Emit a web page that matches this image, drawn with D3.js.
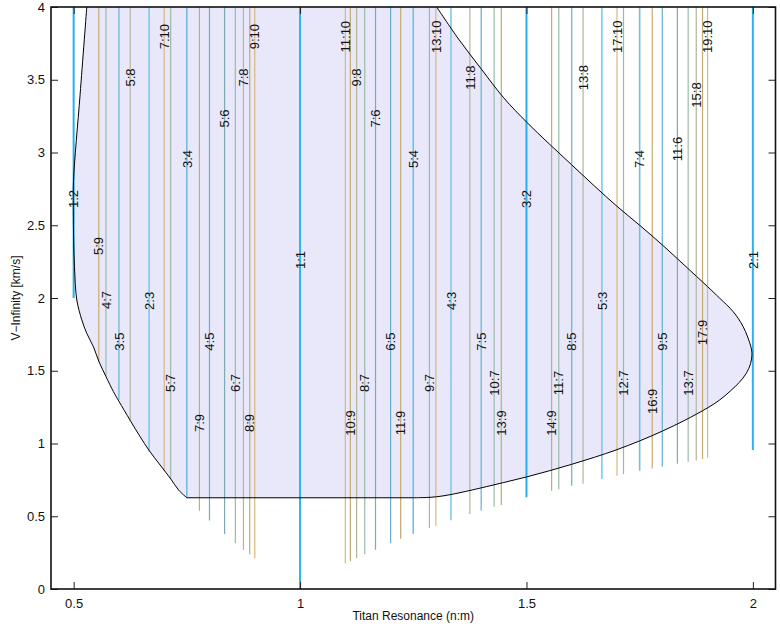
<!DOCTYPE html>
<html>
<head>
<meta charset="utf-8">
<script src="https://cdn.jsdelivr.net/npm/d3@7"></script>
<style>
  html, body { margin: 0; padding: 0; background: #fff; }
  text { font-family: "Liberation Sans", Arial, Helvetica, sans-serif; }
</style>
</head>
<body>
<svg id="chart" width="780" height="630"></svg>
<script>
// ---------------- data ----------------
const resN   = [1,5,4,3,5,2,7,5,3,7,4,5,6,7,8,9,1,11,10,9,8,7,6,11,5,9,13,4,11,7,10,13,3,14,11,8,13,5,17,12,7,16,9,11,13,15,17,19,2];
const resM   = [2,9,7,5,8,3,10,7,4,9,5,6,7,8,9,10,1,10,9,8,7,6,5,9,4,7,10,3,8,5,7,9,2,9,7,5,8,3,10,7,4,9,5,6,7,8,9,10,1];
const vMin   = [2.0,1.56,1.46,1.30,1.155,0.944,0.81,0.756,0.627,0.538,0.47,0.378,0.314,0.268,0.238,0.211,0.0,
                0.176,0.192,0.211,0.238,0.27,0.314,0.346,0.38,0.42,0.435,0.472,0.515,0.538,0.566,0.577,0.63,
                0.676,0.685,0.71,0.724,0.756,0.779,0.788,0.813,0.829,0.84,0.861,0.875,0.884,0.893,0.902,0.955];
const vMax   = new Array(49).fill(4);
const labelV = [2.68,2.357,1.986,1.70,3.515,1.98,3.796,1.416,2.955,1.141,1.70,3.234,1.416,3.515,1.141,3.796,2.261,
                3.796,1.141,3.515,1.416,3.234,1.70,1.141,2.955,1.416,3.796,1.98,3.515,1.70,1.416,1.141,2.68,
                1.141,1.416,1.70,3.515,1.98,3.796,1.416,2.955,1.29,1.70,3.024,1.416,3.395,1.763,3.796,2.261];

// boundary of the accessible region: left branch (top -> corner), then right branch (flat end -> nose -> top)
const leftX  = [0.529,0.5143,0.4996,0.4993,0.5,0.5018,0.507,0.518,0.529,0.5437,0.5556,0.5714,0.5879,0.6,0.6247,0.6468,0.6667,0.691,0.7146,0.7318,0.75];
const leftV  = [4.0,3.4,2.80,2.6,2.4,2.215,1.986,1.85,1.757,1.665,1.565,1.46,1.356,1.29,1.16,1.047,0.952,0.852,0.756,0.68,0.627];
const rightX = [1.25,1.28,1.3018,1.331,1.375,1.4,1.45,1.5,1.55,1.6,1.65,1.7,1.75,1.8,1.85,1.9,1.927,1.95,1.97,1.985,1.995,1.998,
                1.9956,1.9786,1.9565,1.927,1.9,1.85,1.8,1.75,1.7,1.65,1.6,1.55,1.5,1.45,1.4,1.35,1.3018];
const rightV = [0.627,0.629,0.634,0.648,0.677,0.695,0.732,0.770,0.812,0.857,0.905,0.958,1.018,1.085,1.160,1.245,1.300,1.36,1.42,1.48,1.55,1.61,
                1.665,1.803,1.906,1.998,2.078,2.222,2.365,2.50,2.63,2.77,2.915,3.06,3.21,3.375,3.575,3.78,4.0];

const xTicks = [0.5, 1, 1.5, 2];
const yTicks = [0, 0.5, 1, 1.5, 2, 2.5, 3, 3.5, 4];

// ---------------- styles ----------------
const mColor = {1:"#2cb3ec",2:"#26b0ea",3:"#80c8ea",4:"#74bde0",5:"#66b0cc",6:"#7caab2",7:"#9cbaaa",8:"#b2b698",9:"#c4ab72",10:"#d8b87e"};
const mWidth = m => m <= 2 ? 2 : (m <= 4 ? 1.6 : 1.2);

// ---------------- chart ----------------
const svg = d3.select("#chart");
const L = 51, R = 775.5, T = 7, B = 589;
const x = d3.scaleLinear().domain([0.45, 2.05]).range([L, R]);
const y = d3.scaleLinear().domain([0, 4]).range([B, T]);

svg.append("rect").attr("width",780).attr("height",630).attr("fill","#fff");

svg.append("defs").append("clipPath").attr("id","clip")
  .append("rect").attr("x",L).attr("y",T).attr("width",R-L).attr("height",B-T);

const plot = svg.append("g").attr("clip-path","url(#clip)");

const curve = d3.line().x(d=>x(d[0])).y(d=>y(d[1])).curve(d3.curveCatmullRom.alpha(0.5));
const leftPts  = leftX.map((d,i)=>[d, leftV[i]]);
const rightPts = rightX.map((d,i)=>[d, rightV[i]]);
const outline = curve(leftPts) + curve(rightPts).replace(/^M/, "L");

plot.append("path").attr("d", outline + "Z")
  .attr("fill","#e8e8fa").attr("stroke","none");

const data = resN.map((n,i)=>({n, m:resM[i], r:n/resM[i], lo:vMin[i], hi:vMax[i], lv:labelV[i]}));

plot.selectAll("line.res").data(data).join("line").attr("class","res")
  .attr("x1", d=>x(d.r)).attr("x2", d=>x(d.r))
  .attr("y1", d=>y(d.lo)).attr("y2", d=>y(d.hi))
  .attr("stroke", d=>mColor[d.m]).attr("stroke-width", d=>mWidth(d.m));

plot.append("path").attr("d", outline)
  .attr("fill","none").attr("stroke","#000").attr("stroke-width",1);

svg.selectAll("text.lab").data(data).join("text").attr("class","lab")
  .attr("transform", d=>`translate(${x(d.r)},${y(d.lv)}) rotate(-90)`)
  .attr("text-anchor","middle").attr("dy","0.36em")
  .attr("font-size",13).attr("fill","#111")
  .text(d=>`${d.n}:${d.m}`);

// axes
const fmt = d3.format("~g");
const gx = svg.append("g").attr("transform",`translate(0,${B})`)
  .call(d3.axisBottom(x).tickValues(xTicks).tickFormat(fmt).tickSize(-7).tickPadding(10));
const gxt = svg.append("g").attr("transform",`translate(0,${T})`)
  .call(d3.axisTop(x).tickValues(xTicks).tickFormat("").tickSize(-7));
const gy = svg.append("g").attr("transform",`translate(${L},0)`)
  .call(d3.axisLeft(y).tickValues(yTicks).tickFormat(fmt).tickSize(-7).tickPadding(6));
const gyr = svg.append("g").attr("transform",`translate(${R},0)`)
  .call(d3.axisRight(y).tickValues(yTicks).tickFormat("").tickSize(-7));
[gx,gxt,gy,gyr].forEach(g=>{
  g.select(".domain").remove();
  g.selectAll(".tick line").attr("stroke","#222").attr("stroke-width",1);
  g.selectAll(".tick text").attr("font-size",13).attr("fill","#111")
   .attr("font-family",'"Liberation Sans", Arial, sans-serif');
});

// frame
svg.append("rect").attr("x",L).attr("y",T).attr("width",R-L).attr("height",B-T)
  .attr("fill","none").attr("stroke","#111").attr("stroke-width",1.6);

// axis titles
svg.append("text").attr("x",(L+R)/2).attr("y",620).attr("text-anchor","middle")
  .attr("font-size",12).attr("fill","#111").text("Titan Resonance (n:m)");
svg.append("text").attr("transform",`translate(20,${(T+B)/2}) rotate(-90)`)
  .attr("text-anchor","middle").attr("font-size",12).attr("fill","#111").text("V−Infinity [km/s]");
</script>
</body>
</html>
